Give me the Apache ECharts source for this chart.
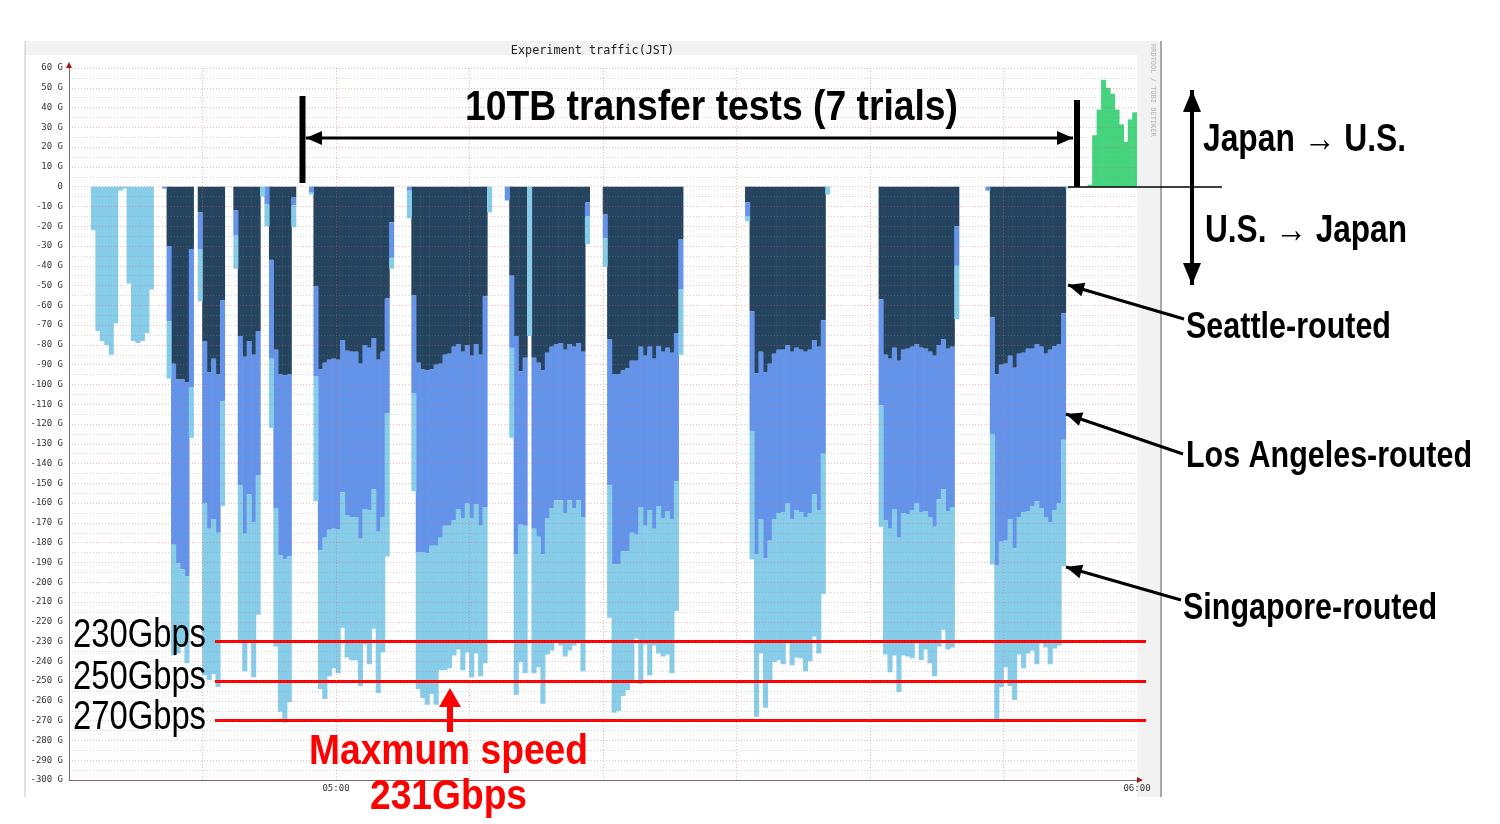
<!DOCTYPE html>
<html><head><meta charset="utf-8">
<script src="https://cdn.jsdelivr.net/npm/echarts@6/dist/echarts.min.js"></script>
<style>html,body{margin:0;padding:0;background:#fff}#c{width:1500px;height:824px}</style>
</head><body><div id="c"></div>
<script>
// RRD step = 20 s ; 240 bins from 04:40 to 06:00 JST
const xTickValues = [20, 80];
const xTickLabels = ['05:00', '06:00'];

// U.S. -> Japan traffic (Gbps) per 20-second bin
const seattle = [
0,0,0,0,0,0,0,0,0,0,0,0,0,0,0,0,0,0,0,0,
0,0,30,89.5,97.5,97.5,99,31.5,0,13,78,94,87,95,57.5,0,0,12,75.5,86,
78,85,73,0,0,37,82.5,95,95.5,95,5.5,0,0,0,0,50.5,92.5,89,87.5,87,
87.5,77.5,83,83.5,83.5,89.5,80,81.5,76.5,87.5,83.5,56.5,18,0,0,0,0,55,89,92.5,
93,92.5,90,89.5,85,84.5,81,79.5,83.5,80,85.5,79.5,85,55.5,0,0,0,0,0,45,
75.5,93.5,86.5,0,86.5,89,93,84,81,79.5,79,82.5,79.5,81,79,83.5,8,0,0,0,
14,77,95,95,93,92,88,88,81,85.5,81,87,80.5,83.5,81.5,84,74,26.5,0,0,
0,0,0,0,0,0,0,0,0,0,0,0,8,63,94.5,83.5,94,89.5,84.5,82.5,
82.5,80,83.5,81.5,82.5,83.5,82.5,77.5,81,67.5,0,0,0,0,0,0,0,0,0,0,
0,0,57,85,87,81.5,88,82.5,82,81,79.5,81.5,82,83.5,85.5,80,77,82,81,20,
0,0,0,0,0,0,0,66,95,90,89.5,85.5,91.5,84.5,84,82,82,79.5,81,84.5,
82.5,80.5,79.5,64,0,0,0,0,0,0,0,0,0,0,0,0,0,0,0,0];
const losAngeles = [
0,0,0,0,0,0,0,0,0,0,0,0,0,0,0,0,0,0,0,0,
0,1,38,91.5,93,96,98,70,0,18.5,82,79,81,80,51,0,0,12.5,75.5,89.5,
77.5,84.5,73,0,9,50,80,91.5,93,92,4,0,0,0,3,45.5,91.5,88.5,86,86,
86,77,83,83.5,83.5,88.5,83,82,76.5,87,83.5,58,18,0,0,0,2,49.5,96,92.5,
92.5,89,91.5,88,86.5,87,87.5,83.5,84,80,82,81,86.5,106.5,0,0,0,0,7,36.5,
110.5,77.5,85,0,86.5,88,93,83.5,81.5,79,79.5,82.5,79,81.5,79.5,83.5,7,0,0,0,
12,74,96,96,91.5,92.5,87,88,81,86,82.5,86,81,84,82.5,84,75,25.5,0,0,
0,0,0,0,0,0,0,0,0,0,0,0,7,60.5,91.5,84.5,94,89.5,83.5,82.5,
82,80,84.5,82,82,83.5,82.5,78,82.5,67.5,0,0,0,0,0,0,0,0,0,0,
0,0,53.5,83.5,86,81.5,89.5,82.5,83.5,82.5,80.5,83,82,83.5,86.5,78,76,82,81,20,
0,0,0,0,0,0,2,59,96.5,89.5,89.5,82.5,91.5,82.5,80.5,82,79.5,79.5,81.5,82.5,
87,83,80.5,64,0,0,0,0,0,0,0,0,0,0,0,0,0,0,0,0];
const singapore = [
0,0,0,0,0,22,73,78,80,85,69,2,1,49,78,79,78,74,52,0,
0,0,29,56,45.5,39,44,25.5,0,26.5,87,76.5,78.5,78,53,0,0,17,79,69.5,
74.5,78.5,70.5,5,11,35,70,79,82.5,73.5,11,0,0,0,1,63,70,81.5,74,70.5,
72.5,68.5,72,72.5,72.5,74.5,68.5,78,70.5,81.5,68.5,72.5,5.5,0,0,0,14,49.5,69,73.5,
76.5,75,80.5,67,73,72,68.5,71,77,75.5,80.5,75.5,76,79,13,0,0,0,0,45.5,
71,69.5,74.5,75.5,73,66,75.5,69,72,72,73.5,72.5,76,69.5,71.5,78,14,0,0,0,
14.5,67,75,74,73,70,76,52.5,89.5,60,83.5,59,74.5,70,72.5,78,65.5,33,0,0,
0,0,0,0,0,0,0,0,0,0,0,0,2.5,65,82,68,75.5,72,72.5,74.5,
77,70.5,74,74.5,74,78,75,72,72.5,71,4,0,0,0,0,0,0,0,0,0,
0,0,61.5,68,72.5,74,78,72,72,75,70.5,75,70,74,75.5,74.5,71,70,71,27,
0,0,0,0,0,0,0,66,78,73.5,64,84.5,76.5,69.5,79,72,73,82.5,68.5,66,
72,70,72,64,1,0,0,0,0,0,0,0,0,0,0,0,0,0,0,0];
// Japan -> U.S. traffic (Gbps)
const japanToUS = [
0,0,0,0,0,0,0,0,0,0,0,0,0,0,0,0,0,0,0,0,
0,0,0,0,0,0,0,0,0,0,0,0,0,0,0,0,0,0,0,0,
0,0,0,0,0,0,0,0,0,0,0,0,0,0,0,0,0,0,0,0,
0,0,0,0,0,0,0,0,0,0,0,0,0,0,0,0,0,0,0,0,
0,0,0,0,0,0,0,0,0,0,0,0,0,0,0,0,0,0,0,0,
0,0,0,0,0,0,0,0,0,0,0,0,0,0,0,0,0,0,0,0,
0,0,0,0,0,0,0,0,0,0,0,0,0,0,0,0,0,0,0,0,
0,0,0,0,0,0,0,0,0,0,0,0,0,0,0,0,0,0,0,0,
0,0,0,0,0,0,0,0,0,0,0,0,0,0,0,0,0,0,0,0,
0,0,0,0,0,0,0,0,0,0,0,0,0,0,0,0,0,0,0,0,
0,0,0,0,0,0,0,0,0,0,0,0,0,0,0,0,0,0,0,0,
0,0,0,0,0,0,0,0,0,1,26,39,54,50,47,39,31.5,22.7,34,37.6];

const speedLines = [230, 250, 270];
const speedLabels = ['230Gbps', '250Gbps', '270Gbps'];

const bins = seattle.map((_, i) => i);
const FONT = '"Liberation Sans", Arial, sans-serif';
const mctx = document.createElement('canvas').getContext('2d');
function fit(text, font, w) { mctx.font = font; return w / mctx.measureText(text).width; }

function head(tip, from, len, hw) {
  const dx = tip[0] - from[0], dy = tip[1] - from[1];
  const L = Math.hypot(dx, dy), ux = dx / L, uy = dy / L;
  const bx = tip[0] - ux * len, by = tip[1] - uy * len;
  return [[tip[0], tip[1]], [bx - uy * hw, by + ux * hw], [bx + uy * hw, by - ux * hw]];
}
function arrowLine(from, tip, w, len, hw, both) {
  const els = [
    {type: 'line', shape: {x1: from[0], y1: from[1], x2: tip[0], y2: tip[1]}, style: {stroke: '#000', lineWidth: w}, z: 100},
    {type: 'polygon', shape: {points: head(tip, from, len, hw)}, style: {fill: '#000'}, z: 100}
  ];
  if (both) els.push({type: 'polygon', shape: {points: head(from, tip, len, hw)}, style: {fill: '#000'}, z: 100});
  return els;
}
function txt(x, y, text, font, color, align, width) {
  return {type: 'text', x: x, y: y, z: 101, scaleX: width ? fit(text, font, width) : 1,
    style: {text: text, font: font, fill: color || '#000',
    textAlign: align || 'left', textVerticalAlign: 'middle', align: align || 'left', verticalAlign: 'middle'}};
}

const graphics = [
  {type: 'rect', shape: {x: 25, y: 41, width: 1137, height: 756}, style: {fill: '#f2f2f2'}, z: -2, silent: true},
  {type: 'rect', shape: {x: 26, y: 55, width: 1111, height: 742}, style: {fill: '#ffffff'}, z: -1, silent: true},
  {type: 'line', shape: {x1: 25, y1: 41, x2: 25, y2: 797}, style: {stroke: '#c8c8c8', lineWidth: 1}, z: -1},
  {type: 'rect', shape: {x: 1160, y: 41, width: 2, height: 756}, style: {fill: '#a8a8a8'}, z: -1},
  {type: 'text', x: 592.5, y: 51, z: 5, style: {text: 'Experiment traffic(JST)', font: '11.8px "DejaVu Sans Mono"', fill: '#222', textAlign: 'center', textVerticalAlign: 'middle', align: 'center', verticalAlign: 'middle'}},
  {type: 'text', x: 1153, y: 44, rotation: -Math.PI / 2, z: 5, style: {text: 'RRDTOOL / TOBI OETIKER', font: '7px "DejaVu Sans Mono"', fill: '#b4b4b4', textAlign: 'left', textVerticalAlign: 'middle', align: 'left', verticalAlign: 'middle'}},
  {type: 'polygon', shape: {points: [[69, 62], [66, 68], [72, 68]]}, style: {fill: '#a01818'}, z: 20},
  {type: 'polygon', shape: {points: [[1143, 780], [1137, 777], [1137, 783]]}, style: {fill: '#a01818'}, z: 20},
  {type: 'rect', shape: {x: 299.5, y: 96, width: 6, height: 87}, style: {fill: '#000'}, z: 100},
  {type: 'rect', shape: {x: 1074, y: 100, width: 6, height: 87}, style: {fill: '#000'}, z: 100},
  ...arrowLine([306, 138], [1073, 138], 3, 16, 7, true),
  txt(711.5, 108, '10TB transfer tests (7 trials)', 'bold 42px ' + FONT, '#000', 'center', 493),
  ...arrowLine([1192, 285], [1192, 90], 4, 22, 9, true),
  {type: 'line', shape: {x1: 1068, y1: 187, x2: 1222, y2: 187}, style: {stroke: '#000', lineWidth: 1.5}, z: 100},
  txt(1203, 141, 'Japan \u2192 U.S.', 'bold 38px ' + FONT, '#000', 'left', 203),
  txt(1205, 232, 'U.S. \u2192 Japan', 'bold 38px ' + FONT, '#000', 'left', 202),
  ...arrowLine([1184, 319], [1068, 285], 3, 16, 7, false),
  ...arrowLine([1183, 454], [1066, 414], 3, 16, 7, false),
  ...arrowLine([1181, 600], [1066, 567], 3, 16, 7, false),
  txt(1186, 328, 'Seattle-routed', 'bold 37px ' + FONT, '#000', 'left', 205),
  txt(1186, 457, 'Los Angeles-routed', 'bold 37px ' + FONT, '#000', 'left', 286),
  txt(1183, 609, 'Singapore-routed', 'bold 37px ' + FONT, '#000', 'left', 254),
  {type: 'polygon', shape: {points: [[450, 688], [439, 707], [447, 707], [447, 732], [453, 732], [453, 707], [461, 707]]}, style: {fill: '#ff0000'}, z: 100},
  txt(448.5, 752, 'Maxmum speed', 'bold 42px ' + FONT, '#ff0000', 'center', 279),
  txt(448.5, 797, '231Gbps', 'bold 42px ' + FONT, '#ff0000', 'center', 157)
];
speedLabels.forEach((s, k) => graphics.push(txt(73, [636, 678, 718][k], s, '40px ' + FONT, '#000', 'left', 133)));

const pink = 'rgba(228,90,90,0.42)';
const grey = 'rgba(140,140,140,0.38)';
function barSeries(name, arr, sign, color) {
  return {name: name, type: 'bar', xAxisIndex: 0, stack: 'traffic', barWidth: 5.1, z: 2,
    data: arr.map(v => v ? sign * v : null),
    itemStyle: {color: color}};
}
const sing = barSeries('Singapore-routed', singapore, -1, '#87cde9');
sing.markLine = {silent: true, symbol: 'none', animation: false, label: {show: false},
  lineStyle: {color: '#ff0000', width: 3, type: 'solid'},
  data: speedLines.map(v => [{x: 215, yAxis: -v}, {x: 1146, yAxis: -v}])};

const option = {
  animation: false,
  backgroundColor: '#ffffff',
  grid: {left: 69, top: 68, width: 1068, height: 712, show: false},
  xAxis: [
    {type: 'category', data: bins, show: false, boundaryGap: true},
    {type: 'value', min: 0, max: 80, interval: 10, z: 6, position: 'bottom',
      axisLine: {show: true, onZero: false, lineStyle: {color: '#7a6a6a', width: 1}},
      axisTick: {show: false},
      axisLabel: {fontFamily: 'DejaVu Sans Mono', fontSize: 9, color: '#333', margin: 4,
        formatter: v => { const k = xTickValues.indexOf(v); return k >= 0 ? xTickLabels[k] : ''; }},
      splitLine: {show: true, showMinLine: false, showMaxLine: false, lineStyle: {color: pink, type: [1, 2], width: 1}}}
  ],
  yAxis: {
    type: 'value', min: -300, max: 60, interval: 10, z: 6,
    axisLine: {show: true, onZero: false, lineStyle: {color: '#7a6a6a', width: 1}},
    axisTick: {show: false},
    axisLabel: {fontFamily: 'DejaVu Sans Mono', fontSize: 9, color: '#333', margin: 6,
      formatter: v => v === 0 ? '0' : v + ' G'},
    splitLine: {show: true, showMinLine: false, lineStyle: {color: pink, type: [1, 2], width: 1}},
    minorTick: {show: false, splitNumber: 2},
    minorSplitLine: {show: true, lineStyle: {color: grey, type: [1, 2], width: 1}}
  },
  graphic: graphics,
  series: [
    barSeries('Seattle-routed', seattle, -1, '#25445f'),
    barSeries('Los Angeles-routed', losAngeles, -1, '#6493ea'),
    sing,
    barSeries('Japan to U.S.', japanToUS, 1, '#45d37d')
  ]
};
const chart = echarts.init(document.getElementById('c'), null, {renderer: 'canvas'});
chart.setOption(option);
</script></body></html>
